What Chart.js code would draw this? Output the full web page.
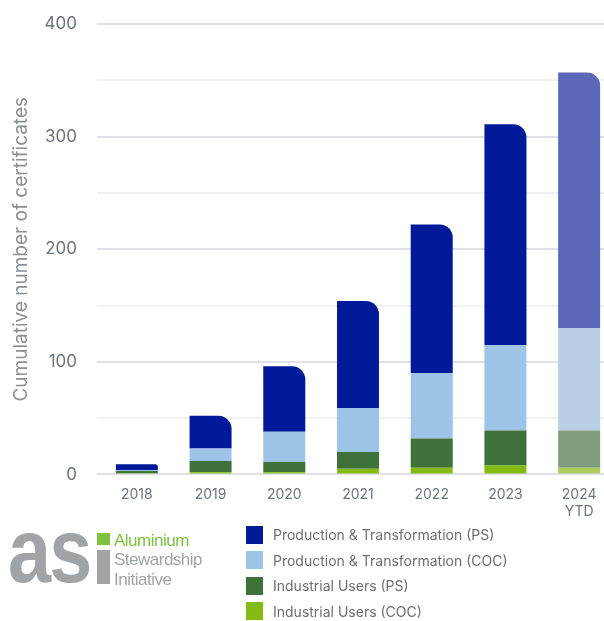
<!DOCTYPE html>
<html>
<head>
<meta charset="utf-8">
<script src="https://cdn.jsdelivr.net/npm/chart.js@4"></script>
<style>
  html, body { margin: 0; padding: 0; background: #fff; overflow: hidden; }
  body { width: 604px; height: 621px; position: relative; font-family: Inter, "Noto Sans", sans-serif; }
  #chart-container { position: absolute; left: 0; top: -6px; width: 616px; height: 530px; }
  #legend { position: absolute; left: 246px; top: 522px; }
  .row { height: 25.5px; display: flex; align-items: center; font-size: 14px; color: #6e6e6e; }
  .box { width: 17px; height: 18px; margin-right: 10px; }
  #logo { position: absolute; left: 8px; top: 500px; width: 230px; height: 100px; }
  .as { position: absolute; left: 0; top: 0; font-family: "Liberation Sans", Arial, sans-serif; font-weight: bold; font-size: 90px; color: #a0a4a7; letter-spacing: -2px; line-height: 1; transform: scaleX(0.86); transform-origin: left top; }
  .istem { position: absolute; left: 89px; top: 50px; width: 13px; height: 34px; background: #a0a4a7; }
  .idot { position: absolute; left: 89px; top: 33px; width: 13px; height: 12px; background: #7dc242; }
  .word { position: absolute; left: 106px; font-family: "Liberation Sans", Arial, sans-serif; font-size: 17px; line-height: 20px; letter-spacing: -0.5px; }
</style>
</head>
<body>
<div id="chart-container"><canvas id="myChart"></canvas></div>
<div id="logo">
  <div class="as" style="top:6px">as</div>
  <div class="istem"></div>
  <div class="idot"></div>
  <div class="word" style="top:31px;color:#7dc242">Aluminium</div>
  <div class="word" style="top:50px;color:#a0a4a7">Stewardship</div>
  <div class="word" style="top:70px;color:#a0a4a7">Initiative</div>
</div>
<div id="legend"></div>
<script>
const years = ['2018', '2019', '2020', '2021', '2022', '2023', ['2024', 'YTD']];

const ptPS = [5, 29, 58, 95, 132, 196, 227];
const ptCOC = [1, 11, 27, 39, 58, 76, 91];
const iuPS = [2, 10, 9, 15, 26, 31, 33];
const iuCOC = [1, 2, 2, 5, 6, 8, 6];

// normal colour, then the faded one for 2024 YTD
function cols(main, faded) {
  const c = [];
  for (var i = 0; i < years.length; i++) {
    c.push(i == years.length - 1 ? faded : main);
  }
  return c;
}

const chart_data = {
  labels: years,
  datasets: [
    { label: 'Industrial Users (COC)', data: iuCOC, backgroundColor: cols('#84bb13', '#abcd5c'), legendColor: '#84bb13' },
    { label: 'Industrial Users (PS)', data: iuPS, backgroundColor: cols('#3e723a', '#7f9c7d'), legendColor: '#3e723a' },
    { label: 'Production & Transformation (COC)', data: ptCOC, backgroundColor: cols('#9dc3e6', '#b9cfe5'), legendColor: '#9dc3e6' },
    { label: 'Production & Transformation (PS)', data: ptPS, backgroundColor: cols('#001a99', '#5b68b8'), legendColor: '#001a99',
      borderRadius: { topLeft: 0, topRight: 13, bottomLeft: 0, bottomRight: 0 }, borderSkipped: 'start' }
  ]
};

const ctx = document.getElementById('myChart').getContext('2d');
const myChart = new Chart(ctx, {
  type: 'bar',
  data: chart_data,
  options: {
    responsive: true,
    maintainAspectRatio: false,
    animation: false,
    layout: { padding: { top: 2, right: 0, left: 0, bottom: 0 } },
    datasets: { bar: { barPercentage: 0.57, categoryPercentage: 1 } },
    plugins: { legend: { display: false }, tooltip: { enabled: false } },
    scales: {
      x: {
        stacked: true,
        grid: { display: false },
        border: { display: false },
        ticks: { color: '#6b7480', font: { family: 'Inter', size: 14 }, padding: 4 }
      },
      y: {
        stacked: true,
        min: 0,
        max: 400,
        border: { display: false },
        afterFit: function (scale) { scale.width = 100; },
        grid: {
          color: function (c) { return c.tick.value % 100 == 0 ? '#e1e0ea' : '#f1f0f5'; },
          lineWidth: 2,
          tickLength: 3
        },
        ticks: {
          stepSize: 50,
          color: '#6b7480',
          font: { family: 'Inter', size: 17 },
          padding: 20,
          callback: function (v) { return v % 100 == 0 ? v : ''; }
        },
        title: {
          display: true,
          text: 'Cumulative number of certificates',
          color: '#8a9097',
          font: { family: 'Inter', size: 19 },
          padding: { top: 10, bottom: 0 }
        }
      }
    }
  }
});

// legend in the order of the reference (top series first)
const legendDiv = document.getElementById('legend');
chart_data.datasets.slice().reverse().forEach(function (ds) {
  const row = document.createElement('div');
  row.className = 'row';
  const box = document.createElement('div');
  box.className = 'box';
  box.style.background = ds.legendColor;
  const txt = document.createElement('span');
  txt.textContent = ds.label;
  row.appendChild(box);
  row.appendChild(txt);
  legendDiv.appendChild(row);
});
</script>
</body>
</html>
